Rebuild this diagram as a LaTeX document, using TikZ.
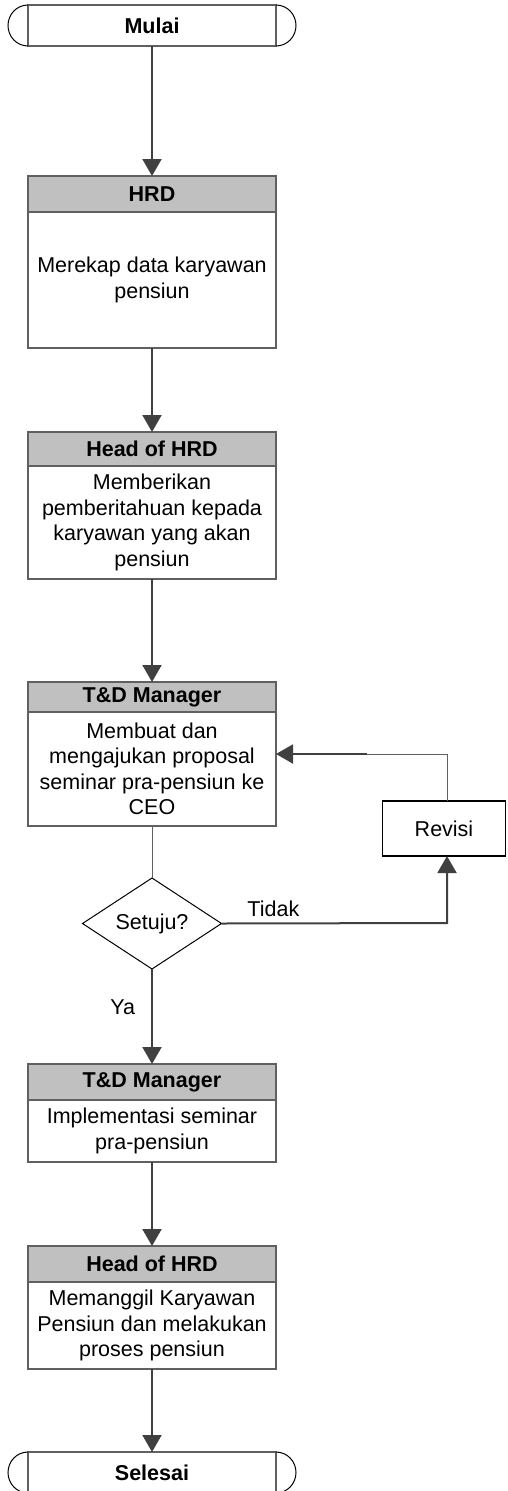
\documentclass[tikz,border=0pt]{standalone}
\usepackage{fontspec}
\setmainfont{Liberation Sans}
\usetikzlibrary{positioning,shapes.geometric,arrows.meta}
\definecolor{linegray}{RGB}{96,96,96}
\definecolor{arrowgray}{RGB}{64,64,64}
\definecolor{headgray}{RGB}{192,192,192}
\newcommand{\termcaps}[1]{%
  \draw[line width=1pt] (#1.north west) arc[start angle=90, end angle=270, x radius=20pt, y radius=20.5pt]
    (#1.north east) arc[start angle=90, end angle=-90, x radius=20pt, y radius=20.5pt];}

\begin{document}
\begin{tikzpicture}[x=1pt, y=-1pt,
    every node/.style={font=\fontsize{21.5}{25.5}\selectfont, inner sep=0pt, outer sep=0pt},
    terminal/.style={draw=linegray, line width=1.3pt, minimum width=248pt, minimum height=41pt,
        font=\fontsize{21.5}{25.5}\selectfont\bfseries},
    head/.style={draw=linegray, line width=1.3pt, fill=headgray, minimum width=248pt, minimum height=#1,
        font=\fontsize{21.5}{25.5}\selectfont\bfseries},
    body/.style={draw=linegray, line width=1.3pt, minimum width=248pt, minimum height=#1, align=center},
    decision/.style={diamond, draw, line width=1pt, minimum width=139pt, minimum height=91pt, shape aspect=1.5},
    revbox/.style={draw, line width=1.3pt, minimum width=123pt, minimum height=55pt},
    flow/.style={draw=arrowgray, line width=2pt, -{Triangle[length=17pt, width=19pt]}},
    plain/.style={draw=linegray, line width=1pt}]
    \useasboundingbox (0,0) rectangle (507,1491);

    \node[terminal] (mulai) at (152,25.5) {Mulai};
    \termcaps{mulai}

    \node[head=36pt] (hrd-h) at (152,194) {HRD};
    \node[body=136pt, below=0pt of hrd-h] (hrd) {Merekap data karyawan\\pensiun};

    \node[head=34pt] (hoh-h) at (152,449) {Head of HRD};
    \node[body=113pt, below=0pt of hoh-h] (hoh) {Memberikan\\pemberitahuan kepada\\karyawan yang akan\\pensiun};

    \node[head=30pt] (tdm-h) at (152,697) {T\&D Manager};
    \node[body=114pt, below=0pt of tdm-h] (tdm) {Membuat dan\\mengajukan proposal\\seminar pra-pensiun ke\\CEO};

    \node[decision] (setuju) at (152,923.5) {Setuju?};
    \node[revbox] (revisi) at (444,828.5) {Revisi};

    \node[head=36pt] (tdi-h) at (152,1082) {T\&D Manager};
    \node[body=62pt, below=0pt of tdi-h] (tdi) {Implementasi seminar\\pra-pensiun};

    \node[head=36pt] (hoh2-h) at (152,1264) {Head of HRD};
    \node[body=87pt, below=0pt of hoh2-h] (hoh2) {Memanggil Karyawan\\Pensiun dan melakukan\\proses pensiun};

    \node[terminal] (selesai) at (152,1472.5) {Selesai};
    \termcaps{selesai}

    \coordinate (turn-a) at (447,923);
    \coordinate (turn-b) at (447,754);
    \coordinate (join) at (367,754);

    \draw[flow] (mulai.south) -- (hrd-h.north);
    \draw[flow] (hrd.south) -- (hoh-h.north);
    \draw[flow] (hoh.south) -- (tdm-h.north);
    \draw[plain] (tdm.south) -- (setuju.north);
    \draw[flow] (setuju.south) -- node[pos=.4, left=17pt] {Ya} (tdi-h.north);
    \draw[flow] (setuju.east) -- node[pos=.23, above=7pt] {Tidak} (turn-a) -- (turn-a |- revisi.south);
    \draw[plain] (turn-b |- revisi.north) -- (turn-b) -- (join);
    \draw[flow] (join) -- (join -| tdm.east);
    \draw[flow] (tdi.south) -- (hoh2-h.north);
    \draw[flow] (hoh2.south) -- (selesai.north);
\end{tikzpicture}
\end{document}
